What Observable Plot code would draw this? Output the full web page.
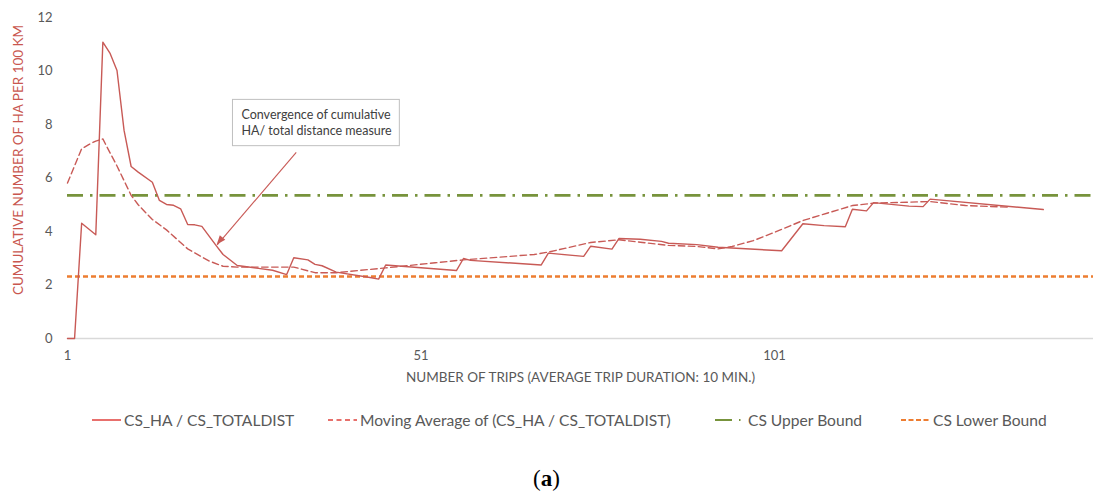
<!DOCTYPE html>
<html>
<head>
<meta charset="utf-8">
<script src="https://cdn.jsdelivr.net/npm/d3@7"></script>
<script src="https://cdn.jsdelivr.net/npm/@observablehq/plot@0.6"></script>
<style>
  body { margin: 0; background: #fff; }
  #wrap { position: relative; width: 1093px; height: 497px; font-family: Lato, "Open Sans", sans-serif; }
  #chart svg { display: block; }
  .item { position: absolute; top: 410px; height: 20px; display: flex; align-items: center; color: #595959; font-size: 15.6px; white-space: nowrap; }
  .item svg { margin-right: 3px; }
  #cap { position: absolute; top: 466px; left: 0; width: 1093px; text-align: center; font-family: "Liberation Serif", serif; font-size: 23px; color: #000; }
</style>
</head>
<body>
<div id="wrap">
  <div id="chart"></div>
  <div id="legend"></div>
  <div id="cap">(<b>a</b>)</div>
</div>
<script>
// Cumulative HA per 100 km after each trip (vertices of the series)
const ratioTrips  = [1, 2, 3, 5, 6, 7, 8, 9, 10, 11, 13, 14, 15, 16, 17, 18, 19, 20, 22, 23, 25, 28, 30, 32, 33, 35, 36, 37, 39, 44, 45, 46, 56, 57, 58, 68, 69, 74, 75, 78, 79, 82, 85, 86, 90, 93, 102, 105, 108, 111, 112, 114, 115, 120, 122, 123, 139];
const ratioValues = [0, 0, 4.31, 3.88, 11.08, 10.67, 10.02, 7.78, 6.43, 6.22, 5.84, 5.16, 5.01, 4.98, 4.85, 4.26, 4.25, 4.19, 3.48, 3.14, 2.73, 2.62, 2.55, 2.39, 3.02, 2.94, 2.77, 2.72, 2.48, 2.27, 2.22, 2.75, 2.54, 2.99, 2.92, 2.75, 3.19, 3.07, 3.45, 3.34, 3.74, 3.71, 3.63, 3.56, 3.51, 3.41, 3.28, 4.29, 4.22, 4.18, 4.83, 4.77, 5.08, 4.95, 4.93, 5.21, 4.82];

// Moving average of the ratio
const avgTrips  = [1, 3, 4, 5, 6, 7, 8, 9, 10, 11, 12, 13, 15, 18, 21, 23, 25, 33, 36, 39, 46, 53, 57, 67, 69, 75, 79, 82, 86, 90, 93, 95, 98, 101, 105, 112, 115, 123, 128, 134];
const avgValues = [5.81, 7.09, 7.25, 7.38, 7.46, 6.95, 6.45, 5.9, 5.35, 5.0, 4.72, 4.45, 4.06, 3.35, 2.9, 2.7, 2.67, 2.67, 2.46, 2.46, 2.64, 2.83, 2.94, 3.14, 3.23, 3.59, 3.69, 3.6, 3.48, 3.44, 3.35, 3.44, 3.66, 3.97, 4.41, 4.97, 5.06, 5.12, 4.97, 4.91];

// Reference bounds
const upperBound = 5.35;
const lowerBound = 2.32;

const xTicks = [1, 51, 101];
const yTicks = [0, 2, 4, 6, 8, 10, 12];

const xTitle = "NUMBER OF TRIPS (AVERAGE TRIP DURATION: 10 MIN.)";
const yTitle = "CUMULATIVE NUMBER OF HA PER 100 KM";
const noteText = "Convergence of cumulative\nHA/ total distance measure";
const noteBox = {x1: 24.4, x2: 48.0, y1: 7.19, y2: 8.92};
const noteTextAt = {x: 25.6, y: 8.11};
const noteArrow = {x1: 33.35, y1: 6.96, x2: 22.17, y2: 3.5};

const legendItems = [
  {label: "CS_HA / CS_TOTALDIST", kind: "solid"},
  {label: "Moving Average of (CS_HA / CS_TOTALDIST)", kind: "dashed"},
  {label: "CS Upper Bound", kind: "upper"},
  {label: "CS Lower Bound", kind: "lower"}
];

const RED = "#C85A56", GREEN = "#77933C", ORANGE = "#ED7D31", GRAY = "#595959";

const ratio = ratioTrips.map((t, i) => ({trip: t, value: ratioValues[i]}));
const avg = avgTrips.map((t, i) => ({trip: t, value: avgValues[i]}));

const plot = Plot.plot({
  width: 1093,
  height: 390,
  marginLeft: 67,
  marginRight: 0,
  marginTop: 17,
  marginBottom: 52,
  style: {fontFamily: "Lato, 'Open Sans', sans-serif", background: "#fff"},
  x: {type: "linear", domain: [1, 146.1]},
  y: {domain: [0, 12]},
  marks: [
    Plot.axisY({ticks: yTicks, tickSize: 0, tickPadding: 15, fontSize: 13, color: GRAY, label: null}),
    Plot.axisX({ticks: xTicks, tickSize: 0, tickPadding: 12, fontSize: 13, color: GRAY, label: null, tickFormat: d => String(d)}),
    Plot.ruleY([0], {stroke: "#d9d9d9", strokeWidth: 1.5}),
    Plot.ruleY([upperBound], {stroke: GREEN, strokeWidth: 2.6, strokeDasharray: "16,7,2.5,7"}),
    Plot.ruleY([lowerBound], {stroke: ORANGE, strokeWidth: 2.6, strokeDasharray: "5,3"}),
    Plot.line(avg, {x: "trip", y: "value", stroke: RED, strokeWidth: 1.4, strokeDasharray: "6.5,3.5"}),
    Plot.line(ratio, {x: "trip", y: "value", stroke: RED, strokeWidth: 1.4}),
    Plot.rect([noteBox], {x1: "x1", x2: "x2", y1: "y1", y2: "y2", fill: "#fff", stroke: "#bfbfbf", strokeWidth: 1}),
    Plot.text([noteText], {x: noteTextAt.x, y: noteTextAt.y, text: d => d, textAnchor: "start", lineAnchor: "middle", lineHeight: 1.36, fontSize: 12.5, fill: "#404040"}),
    Plot.link([noteArrow], {x1: "x1", y1: "y1", x2: "x2", y2: "y2", stroke: RED, strokeWidth: 1.1}),
    Plot.text([xTitle], {frameAnchor: "bottom", dy: 39, lineAnchor: "middle", fontSize: 13.5, fill: GRAY})
  ]
});
document.getElementById("chart").appendChild(plot);

// Filled arrowhead at the end of the annotation pointer
{
  const sx = plot.scale("x"), sy = plot.scale("y");
  const ax = sx.apply(noteArrow.x1), ay = sy.apply(noteArrow.y1);
  const bx = sx.apply(noteArrow.x2), by = sy.apply(noteArrow.y2);
  const len = Math.hypot(bx - ax, by - ay);
  const ux = (bx - ax) / len, uy = (by - ay) / len;
  const L = 9, W = 3.6;
  const px = bx - ux * L, py = by - uy * L;
  d3.select(plot).append("path")
    .attr("d", `M${bx},${by}L${px - uy * W},${py + ux * W}L${px + uy * W},${py - ux * W}Z`)
    .attr("fill", RED);
}

// Rotated y-axis title
d3.select(plot).append("text")
  .attr("transform", "translate(18,160) rotate(-90)")
  .attr("text-anchor", "middle")
  .attr("dominant-baseline", "central")
  .attr("fill", "#C9574F")
  .attr("font-size", 13.5)
  .text(yTitle);

// Legend below the plot
const legendLeft = [92, 328, 715, 901];
const legend = d3.select("#legend");
legendItems.forEach((it, i) => {
  const div = legend.append("div").attr("class", "item").style("left", legendLeft[i] + "px");
  const sw = div.append("svg").attr("width", it.kind === "upper" ? 30 : 29).attr("height", 10);
  const ln = sw.append("line").attr("x1", 0).attr("x2", sw.attr("width")).attr("y1", 5).attr("y2", 5);
  if (it.kind === "solid") ln.attr("stroke", "#E0413C").attr("stroke-width", 1.5);
  if (it.kind === "dashed") ln.attr("stroke", "#E0413C").attr("stroke-width", 1.5).attr("stroke-dasharray", "5,3.5");
  if (it.kind === "upper") ln.attr("stroke", GREEN).attr("stroke-width", 2).attr("stroke-dasharray", "17,7,1.5,10");
  if (it.kind === "lower") ln.attr("stroke", ORANGE).attr("stroke-width", 2).attr("stroke-dasharray", "5,2.5");
  div.append("span").text(it.label);
});
</script>
</body>
</html>
